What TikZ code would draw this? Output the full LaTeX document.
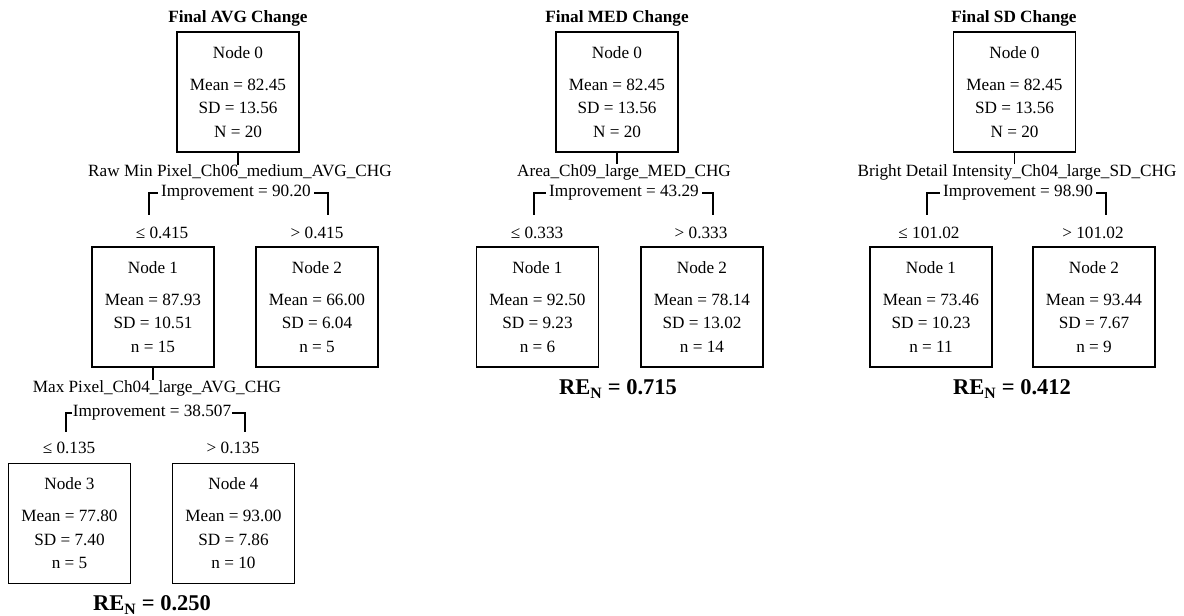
\documentclass[tikz,border=0pt]{standalone}
\usepackage{fontspec}
\setmainfont{Liberation Serif}
\begin{document}
\begin{tikzpicture}[x=1pt,y=-1pt,
  box/.style={draw, line width=1.3pt, minimum width=122pt, minimum height=120pt,
    inner sep=0pt, align=center, font=\fontsize{17.2}{23.5}\selectfont},
  txt/.style={inner sep=0pt, font=\fontsize{17.2}{20}\selectfont},
  imp/.style={txt, inner xsep=3pt},
  imptight/.style={txt, inner xsep=0.5pt},
  ttl/.style={inner sep=0pt, font=\bfseries\fontsize{17.2}{20}\selectfont},
  ren/.style={inner sep=0pt, font=\bfseries\fontsize{22.5}{26}\selectfont},
  link/.style={line width=1.3pt}]
\useasboundingbox (0,0) rectangle (1184,616);

% ---------------- Final AVG Change ----------------
\node[ttl] (aT) at (238,18) {Final AVG Change};
\node[box] (a0) at (238,92) {Node 0\\[8.5pt]Mean = 82.45\\SD = 13.56\\N = 20};
\node[txt] (aF) at (240,172) {Raw Min Pixel\_Ch06\_medium\_AVG\_CHG};
\node[imp] (aI) at (236,193) {Improvement = 90.20};
\coordinate (aBL) at (149,215);
\coordinate (aBR) at (328,215);
\node[txt] (aL) at (162,233) {≤ 0.415};
\node[txt] (aR) at (317,233) {> 0.415};
\node[box] (a1) at (153,307) {Node 1\\[8.5pt]Mean = 87.93\\SD = 10.51\\n = 15};
\node[box] (a2) at (317,307) {Node 2\\[8.5pt]Mean = 66.00\\SD = 6.04\\n = 5};
\node[txt] (aF2) at (157,388) {Max Pixel\_Ch04\_large\_AVG\_CHG};
\node[imptight] (aI2) at (152,413) {Improvement = 38.507};
\coordinate (aBL2) at (66,432);
\coordinate (aBR2) at (245,432);
\node[txt] (aL2) at (69,448) {≤ 0.135};
\node[txt] (aR2) at (233,448) {> 0.135};
\node[box] (a3) at (69.5,523.5) {Node 3\\[8.5pt]Mean = 77.80\\SD = 7.40\\n = 5};
\node[box] (a4) at (233.5,523.5) {Node 4\\[8.5pt]Mean = 93.00\\SD = 7.86\\n = 10};
\node[ren] (aRE) at (152,605) {RE\textsubscript{N} = 0.250};

\draw[link] (a0.south) -- (a0.south |- aF.north);
\draw[link] (aI.west) -| (aBL);
\draw[link] (aI.east) -| (aBR);
\draw[link] (a1.south) -- (a1.south |- aF2.north);
\draw[link] (aI2.west) -| (aBL2);
\draw[link] (aI2.east) -| (aBR2);

% ---------------- Final MED Change ----------------
\node[ttl] (mT) at (617,18) {Final MED Change};
\node[box] (m0) at (617,92) {Node 0\\[8.5pt]Mean = 82.45\\SD = 13.56\\N = 20};
\node[txt] (mF) at (624,172) {Area\_Ch09\_large\_MED\_CHG};
\node[imp] (mI) at (624,193) {Improvement = 43.29};
\coordinate (mBL) at (534,215);
\coordinate (mBR) at (713,215);
\node[txt] (mL) at (537,233) {≤ 0.333};
\node[txt] (mR) at (701,233) {> 0.333};
\node[box] (m1) at (537.5,307) {Node 1\\[8.5pt]Mean = 92.50\\SD = 9.23\\n = 6};
\node[box] (m2) at (702,307) {Node 2\\[8.5pt]Mean = 78.14\\SD = 13.02\\n = 14};
\node[ren] (mRE) at (618,389) {RE\textsubscript{N} = 0.715};

\draw[link] (m0.south) -- (m0.south |- mF.north);
\draw[link] (mI.west) -| (mBL);
\draw[link] (mI.east) -| (mBR);

% ---------------- Final SD Change ----------------
\node[ttl] (sT) at (1014,18) {Final SD Change};
\node[box] (s0) at (1014.5,92) {Node 0\\[8.5pt]Mean = 82.45\\SD = 13.56\\N = 20};
\node[txt] (sF) at (1017,172) {Bright Detail Intensity\_Ch04\_large\_SD\_CHG};
\node[imp] (sI) at (1018,193) {Improvement = 98.90};
\coordinate (sBL) at (927,215);
\coordinate (sBR) at (1106,215);
\node[txt] (sL) at (929,233) {≤ 101.02};
\node[txt] (sR) at (1093,233) {> 101.02};
\node[box] (s1) at (931,307) {Node 1\\[8.5pt]Mean = 73.46\\SD = 10.23\\n = 11};
\node[box] (s2) at (1094,307) {Node 2\\[8.5pt]Mean = 93.44\\SD = 7.67\\n = 9};
\node[ren] (sRE) at (1012,389) {RE\textsubscript{N} = 0.412};

\draw[link] (s0.south) -- (s0.south |- sF.north);
\draw[link] (sI.west) -| (sBL);
\draw[link] (sI.east) -| (sBR);
\end{tikzpicture}
\end{document}
